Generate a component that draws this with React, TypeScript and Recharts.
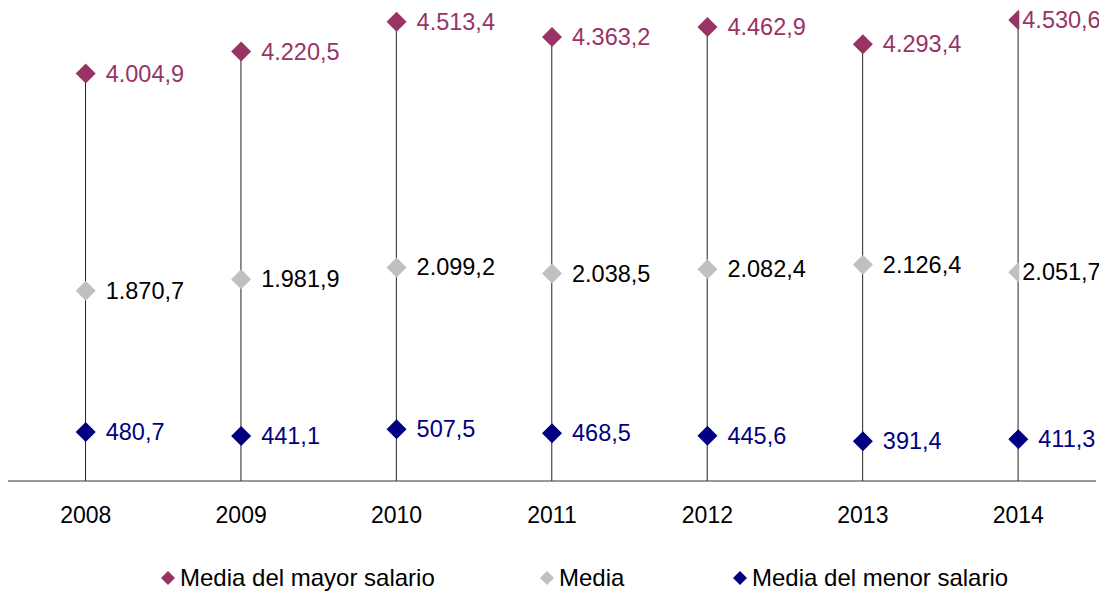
import React from 'react';
import { ComposedChart, Bar, Line, XAxis, YAxis, Legend, LabelList } from 'recharts';

const years = ['2008', '2009', '2010', '2011', '2012', '2013', '2014'];
const mayorSalario = [4004.9, 4220.5, 4513.4, 4363.2, 4462.9, 4293.4, 4530.6];
const mediaSalario = [1870.7, 1981.9, 2099.2, 2038.5, 2082.4, 2126.4, 2051.7];
const menorSalario = [480.7, 441.1, 507.5, 468.5, 445.6, 391.4, 411.3];

const seriesNames = ['Media del mayor salario', 'Media', 'Media del menor salario'];
const seriesColors = ['#993366', '#C0C0C0', '#000080'];
const labelColors = ['#993366', '#000000', '#000080'];

const data = years.map((year, i) => ({
  year,
  mayor: mayorSalario[i],
  media: mediaSalario[i],
  menor: menorSalario[i],
}));

const FONT = '"Liberation Sans", Arial, sans-serif';

// formato español: 4.004,9
const fmt = (v: number) => {
  const [int, dec] = v.toFixed(1).split('.');
  return int.replace(/\B(?=(\d{3})+(?!\d))/g, '.') + ',' + dec;
};

const Diamond = ({ cx, cy, fill, r = 10 }: any) => {
  if (cx == null || cy == null) return null;
  return (
    <polygon
      points={`${cx},${cy - r} ${cx + r},${cy} ${cx},${cy + r} ${cx - r},${cy}`}
      fill={fill}
    />
  );
};

const makeLabel = (color: string, shiftLast: boolean) => (props: any) => {
  const { x, y, value, index } = props;
  const last = shiftLast && index === years.length - 1;
  const tx = last ? x + 4 : x + 20;
  return (
    <g>
      {last && <rect x={x + 1} y={y - 13} width={85} height={26} fill="#fff" />}
      <text
        x={tx}
        y={y}
        fill={color}
        fontSize={23.5}
        fontFamily={FONT}
        dominantBaseline="central"
      >
        {fmt(value)}
      </text>
    </g>
  );
};

const legendLeft = [153, 532, 725];

const renderLegend = () => (
  <div style={{ position: 'relative', width: 1091, height: 44, fontFamily: FONT }}>
    {seriesNames.map((name, i) => (
      <div
        key={name}
        style={{
          position: 'absolute',
          left: legendLeft[i],
          top: 16,
          height: 28,
          display: 'flex',
          alignItems: 'center',
          fontSize: 24,
          color: '#000',
          whiteSpace: 'nowrap',
        }}
      >
        <svg width={14} height={14} style={{ marginRight: 5 }}>
          <Diamond cx={7} cy={7} r={7} fill={seriesColors[i]} />
        </svg>
        {name}
      </div>
    ))}
  </div>
);

export default function App() {
  return (
    <ComposedChart
      width={1099}
      height={584}
      data={data}
      margin={{ top: 5, right: 11, left: 0, bottom: 0 }}
      style={{ overflow: 'visible' }}
    >
      <XAxis
        dataKey="year"
        axisLine={{ stroke: '#333', strokeWidth: 1 }}
        tickLine={false}
        tickMargin={20}
        interval={0}
        height={67}
        tick={{ fontSize: 23, fill: '#000', fontFamily: FONT }}
      />
      <YAxis hide domain={[0, 4600]} />
      <Legend verticalAlign="bottom" content={renderLegend} />
      <Bar dataKey="mayor" barSize={1} fill="#222" isAnimationActive={false} legendType="none" />
      <Line
        dataKey="mayor"
        name={seriesNames[0]}
        stroke="none"
        dot={(p: any) => <Diamond key={p.index} cx={p.cx} cy={p.cy} fill={seriesColors[0]} />}
        activeDot={false}
        isAnimationActive={false}
      >
        <LabelList dataKey="mayor" content={makeLabel(labelColors[0], true)} />
      </Line>
      <Line
        dataKey="media"
        name={seriesNames[1]}
        stroke="none"
        dot={(p: any) => <Diamond key={p.index} cx={p.cx} cy={p.cy} fill={seriesColors[1]} />}
        activeDot={false}
        isAnimationActive={false}
      >
        <LabelList dataKey="media" content={makeLabel(labelColors[1], true)} />
      </Line>
      <Line
        dataKey="menor"
        name={seriesNames[2]}
        stroke="none"
        dot={(p: any) => <Diamond key={p.index} cx={p.cx} cy={p.cy} fill={seriesColors[2]} />}
        activeDot={false}
        isAnimationActive={false}
      >
        <LabelList dataKey="menor" content={makeLabel(labelColors[2], false)} />
      </Line>
    </ComposedChart>
  );
}
